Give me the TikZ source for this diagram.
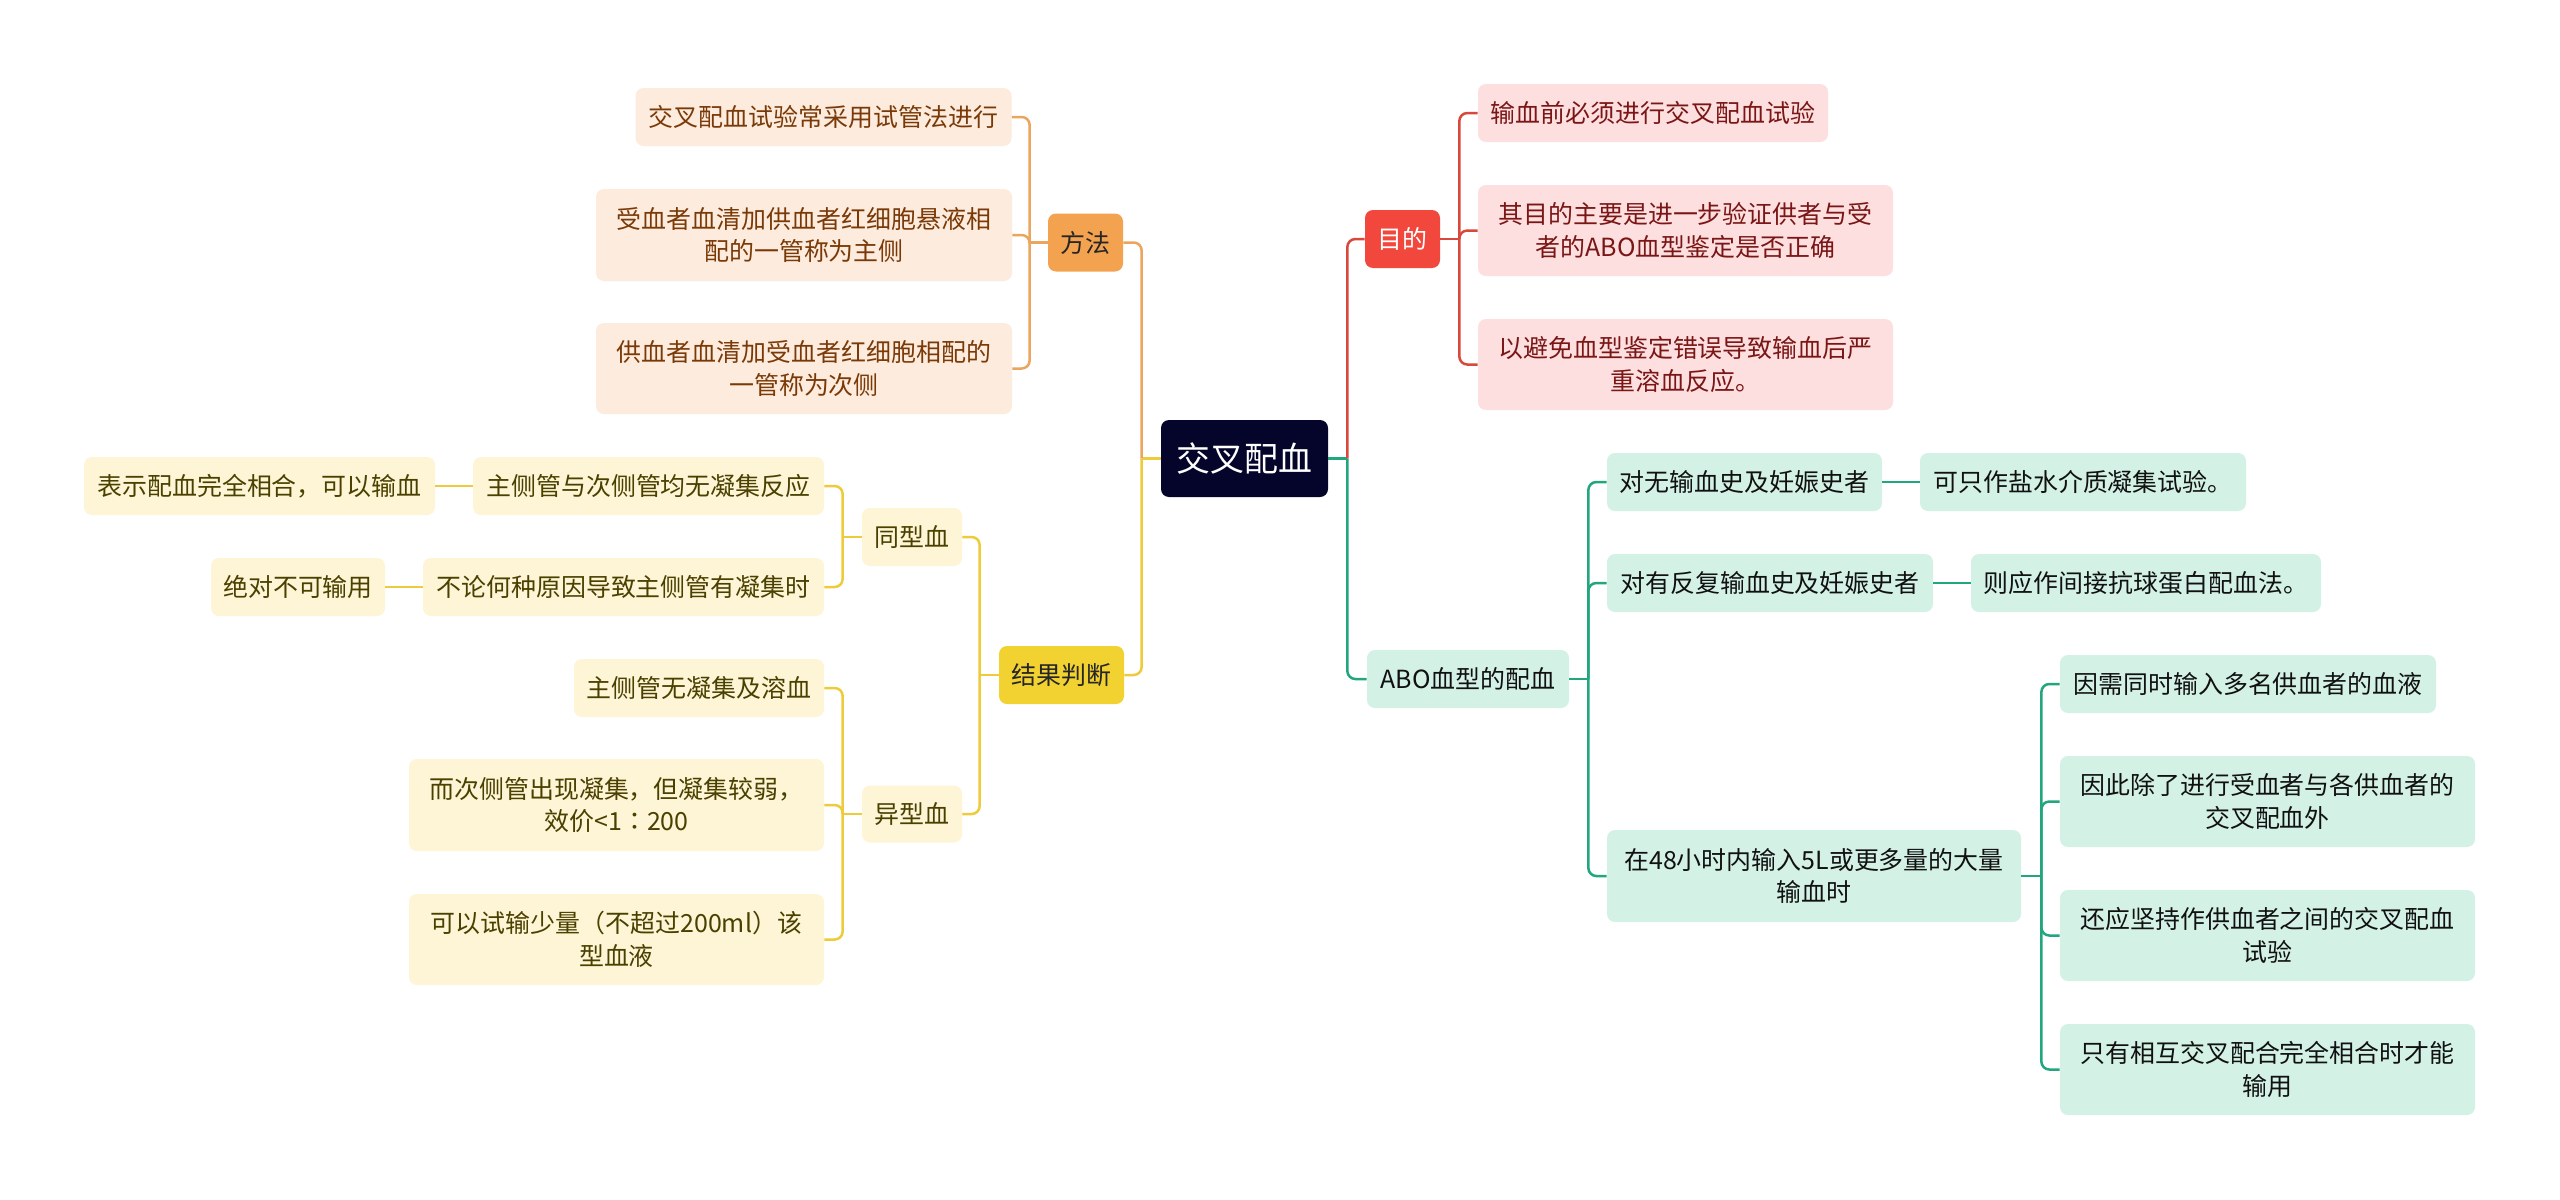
\documentclass[tikz,border=0pt]{standalone}
\usepackage{fontspec}
\newfontfamily\cjk{Noto Sans CJK SC}
\newfontfamily\cjktc{Noto Sans CJK TC}
\usepackage{tikz}
\usetikzlibrary{positioning,calc}
\usepackage{xcolor}

\definecolor{rootbg}{HTML}{05052B}
\definecolor{redmain}{HTML}{F2473C}
\definecolor{redln}{HTML}{D9483D}
\definecolor{redsub}{HTML}{FDDFDF}
\definecolor{redtxt}{HTML}{7A1616}
\definecolor{orangemain}{HTML}{F3A250}
\definecolor{orangeln}{HTML}{EBA55E}
\definecolor{orangesub}{HTML}{FDEBDD}
\definecolor{orangetxt}{HTML}{7A3A08}
\definecolor{yellowmain}{HTML}{F2D230}
\definecolor{yellowln}{HTML}{EDCB3A}
\definecolor{yellowsub}{HTML}{FDF5D5}
\definecolor{yellowtxt}{HTML}{4A4000}
\definecolor{greensub}{HTML}{D3F2E5}
\definecolor{greenln}{HTML}{21A67E}
\definecolor{greentxt}{HTML}{111111}

\begin{document}
\begin{tikzpicture}[
        x=0.02cm,
        y=-0.02cm,
        box/.style={
            rectangle,
            rounded corners=0.16cm,
            inner sep=0pt,
            align=center,
            font=\cjk\fontsize{14.2}{18.7}\selectfont
        },
        boxsize/.style 2 args={minimum width=#1*0.02cm, minimum height=#2*0.02cm},
        redbox/.style={box, fill=redmain, text=white},
        redleaf/.style={box, fill=redsub, text=redtxt},
        orangebox/.style={box, fill=orangemain, text=black!85},
        orangeleaf/.style={box, fill=orangesub, text=orangetxt},
        yellowbox/.style={box, fill=yellowmain, text=black!85},
        yellowleaf/.style={box, fill=yellowsub, text=yellowtxt},
        greenleaf/.style={box, fill=greensub, text=greentxt},
        redline/.style={draw=redln, line width=0.05cm},
        orangeline/.style={draw=orangeln, line width=0.05cm},
        yellowline/.style={draw=yellowln, line width=0.05cm},
        greenline/.style={draw=greenln, line width=0.05cm},
        elbow/.style={rounded corners=0.16cm}
    ]

    \useasboundingbox (0,0) rectangle (2560,1200);
    \fill[white] (0,0) rectangle (2560,1200);

    % CENTRE
    \node[box, boxsize={167}{77}, fill=rootbg, text=white, font=\cjk\fontsize{19.3}{23}\selectfont] (root) at (1244.5,458.5) {交叉配血};

    % RIGHT TOP: PURPOSE
    \node[redbox, boxsize={75}{58}] (mudi) at (1402.5,239) {目的};
    \node[redleaf, boxsize={350}{58}] (mudi1) at (1653,113) {输血前必须进行交叉配血试验};
    \node[redleaf, boxsize={415}{91}] (mudi2) at (1685.5,230.5) {其目的主要是进一步验证供者与受\\者的ABO血型鉴定是否正确};
    \node[redleaf, boxsize={415}{91}] (mudi3) at (1685.5,364.5) {以避免血型鉴定错误导致输血后严\\重溶血反应。};

    % RIGHT BOTTOM: ABO MATCHING
    \node[greenleaf, boxsize={202}{58}] (abo) at (1468,679) {ABO血型的配血};
    \node[greenleaf, boxsize={275}{58}] (abo1) at (1744.5,482) {对无输血史及妊娠史者};
    \node[greenleaf, boxsize={326}{58}] (abo1r) at (2083,482) {可只作盐水介质凝集试验。};
    \node[greenleaf, boxsize={326}{58}] (abo2) at (1770,583) {对有反复输血史及妊娠史者};
    \node[greenleaf, boxsize={350}{58}] (abo2r) at (2146,583) {则应作间接抗球蛋白配血法。};
    \node[greenleaf, boxsize={414}{92}] (abo3) at (1814,876) {在48小时内输入5L或更多量的大量\\输血时};
    \node[greenleaf, boxsize={376}{58}] (big1) at (2248,684) {因需同时输入多名供血者的血液};
    \node[greenleaf, boxsize={415}{91}] (big2) at (2267.5,801.5) {因此除了进行受血者与各供血者的\\交叉配血外};
    \node[greenleaf, boxsize={415}{91}] (big3) at (2267.5,935.5) {还应坚持作供血者之间的交叉配血\\试验};
    \node[greenleaf, boxsize={415}{91}] (big4) at (2267.5,1069.5) {只有相互交叉配合完全相合时才能\\输用};

    % LEFT TOP: METHOD
    \node[orangebox, boxsize={75}{58}] (fangfa) at (1085.5,242.5) {方法};
    \node[orangeleaf, boxsize={376}{58}] (ff1) at (823.5,117) {交叉配血试验常采用试管法进行};
    \node[orangeleaf, boxsize={416}{92}] (ff2) at (804,235) {受血者血清加供血者红细胞悬液相\\配的一管称为主侧};
    \node[orangeleaf, boxsize={416}{91}] (ff3) at (804,368.5) {供血者血清加受血者红细胞相配的\\一管称为次侧};

    % LEFT BOTTOM: RESULT
    \node[yellowbox, boxsize={125}{58}] (jieguo) at (1061.5,675) {结果判断};
    \node[yellowleaf, boxsize={100}{58}] (tong) at (912,537) {同型血};
    \node[yellowleaf, boxsize={351}{58}] (tong1) at (648.5,486) {主侧管与次侧管均无凝集反应};
    \node[yellowleaf, boxsize={351}{58}] (tong1l) at (259.5,486) {表示配血完全相合，可以输血};
    \node[yellowleaf, boxsize={401}{58}] (tong2) at (623.5,587) {不论何种原因导致主侧管有凝集时};
    \node[yellowleaf, boxsize={174}{58}] (tong2l) at (298,587) {绝对不可输用};
    \node[yellowleaf, boxsize={100}{57}] (yi) at (912,814) {异型血};
    \node[yellowleaf, boxsize={250}{58}] (yi1) at (699,688) {主侧管无凝集及溶血};
    \node[yellowleaf, boxsize={415}{92}] (yi2) at (616.5,805) {而次侧管出现凝集，但凝集较弱，\\效价<1{\cjktc：}200};
    \node[yellowleaf, boxsize={415}{91}] (yi3) at (616.5,939.5) {可以试输少量（不超过200ml）该\\型血液};

    % ============================================================
    % CONNECTIONS: Centre
    % ============================================================
    \draw[greenline] (root.east) -- ++(19,0) coordinate (rootR);
    \draw[yellowline] (root.west) -- ++(-19,0) coordinate (rootL);
    \draw[redline, elbow] (rootR) |- (mudi.west);
    \draw[greenline, elbow] (rootR) |- (abo.west);
    \draw[orangeline, elbow] (rootL) |- (fangfa.east);
    \draw[yellowline, elbow] (rootL) |- (jieguo.east);

    % ============================================================
    % CONNECTIONS: Purpose
    % ============================================================
    \draw[redline] (mudi.east) -- ++(19,0) coordinate (mudiT);
    \draw[redline, elbow] (mudiT) |- (mudi1.west);
    \draw[redline, elbow] (mudiT) |- (mudi2.west);
    \draw[redline, elbow] (mudiT) |- (mudi3.west);

    % ============================================================
    % CONNECTIONS: ABO matching
    % ============================================================
    \draw[greenline] (abo.east) -- ++(19,0) coordinate (aboT);
    \draw[greenline, elbow] (aboT) |- (abo1.west);
    \draw[greenline, elbow] (aboT) |- (abo2.west);
    \draw[greenline, elbow] (aboT) |- (abo3.west);
    \draw[greenline] (abo1) -- (abo1r);
    \draw[greenline] (abo2) -- (abo2r);
    \draw[greenline] (abo3.east) -- ++(20,0) coordinate (bigT);
    \draw[greenline, elbow] (bigT) |- (big1.west);
    \draw[greenline, elbow] (bigT) |- (big2.west);
    \draw[greenline, elbow] (bigT) |- (big3.west);
    \draw[greenline, elbow] (bigT) |- (big4.west);

    % ============================================================
    % CONNECTIONS: Method
    % ============================================================
    \draw[orangeline] (fangfa.west) -- ++(-18,0) coordinate (fangfaT);
    \draw[orangeline, elbow] (fangfaT) |- (ff1.east);
    \draw[orangeline, elbow] (fangfaT) |- (ff2.east);
    \draw[orangeline, elbow] (fangfaT) |- (ff3.east);

    % ============================================================
    % CONNECTIONS: Result
    % ============================================================
    \draw[yellowline] (jieguo.west) -- ++(-19,0) coordinate (jieguoT);
    \draw[yellowline, elbow] (jieguoT) |- (tong.east);
    \draw[yellowline, elbow] (jieguoT) |- (yi.east);
    \draw[yellowline] (tong.west) -- ++(-19,0) coordinate (tongT);
    \draw[yellowline, elbow] (tongT) |- (tong1.east);
    \draw[yellowline, elbow] (tongT) |- (tong2.east);
    \draw[yellowline] (tong1) -- (tong1l);
    \draw[yellowline] (tong2) -- (tong2l);
    \draw[yellowline] (yi.west) -- ++(-19,0) coordinate (yiT);
    \draw[yellowline, elbow] (yiT) |- (yi1.east);
    \draw[yellowline, elbow] (yiT) |- (yi2.east);
    \draw[yellowline, elbow] (yiT) |- (yi3.east);

\end{tikzpicture}
\end{document}
